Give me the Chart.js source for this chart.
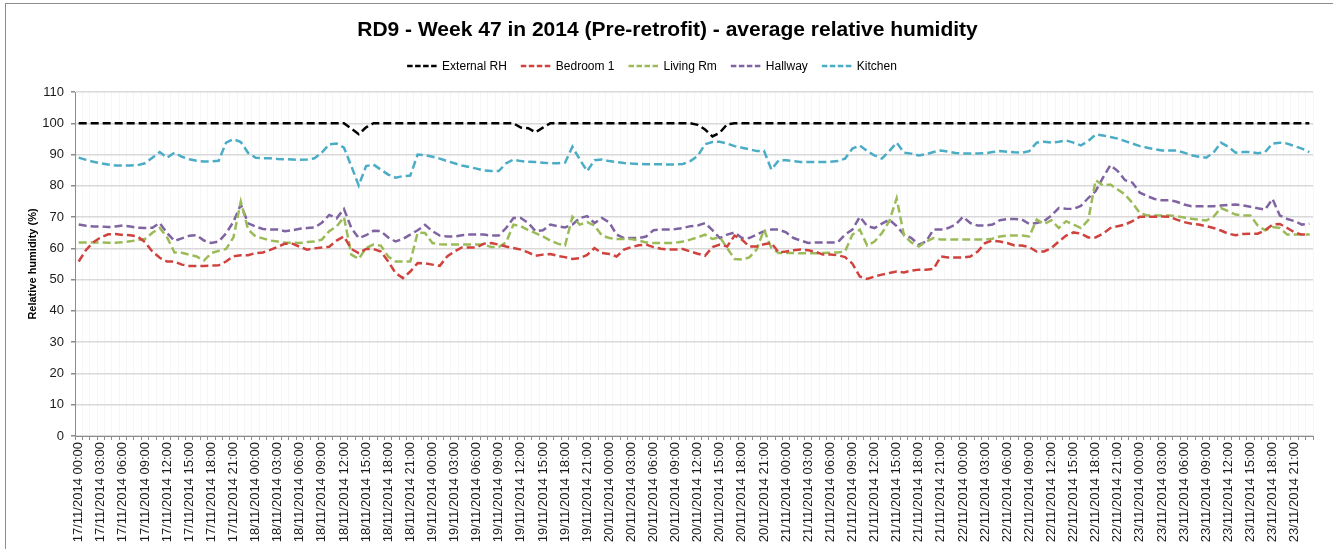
<!DOCTYPE html>
<html>
<head>
<meta charset="utf-8">
<script src="https://cdn.jsdelivr.net/npm/chart.js@4.4.0/dist/chart.umd.min.js"></script>
<style>
  html, body { margin: 0; padding: 0; background: #fff; overflow: hidden; }
  #wrap { position: relative; width: 1333px; height: 549px; overflow: hidden; }
  #frame { position: absolute; left: 5px; top: 3px; width: 1345px; height: 560px; border: 1.5px solid #8c8c8c; box-sizing: border-box; pointer-events: none; }
</style>
</head>
<body>
<div id="wrap">
  <canvas id="rhChart" width="1333" height="549"></canvas>
  <div id="frame"></div>
</div>
<script>
// Categories: hourly readings, 17/11/2014 00:00 to 23/11/2014 23:00
const days = ['17/11/2014', '18/11/2014', '19/11/2014', '20/11/2014', '21/11/2014', '22/11/2014', '23/11/2014'];
const hours = ['00:00','01:00','02:00','03:00','04:00','05:00','06:00','07:00','08:00','09:00','10:00','11:00',
               '12:00','13:00','14:00','15:00','16:00','17:00','18:00','19:00','20:00','21:00','22:00','23:00'];
const labels = [];
days.forEach(d => hours.forEach(h => labels.push(d + ' ' + h)));

// Y ticks
const yTicks = [0, 10, 20, 30, 40, 50, 60, 70, 80, 90, 100, 110];

// Series values (%), one row per day
const externalRH = [
  100,100,100,100,100,100,100,100,100,100,100,100,100,100,100,100,100,100,100,100,100,100,100,100,
  100,100,100,100,100,100,100,100,100,100,100,100,100,98.3,96.5,98.7,100,100,100,100,100,100,100,100,
  100,100,100,100,100,100,100,100,100,100,100,100,98.6,98.4,97.1,98.6,100,100,100,100,100,100,100,100,
  100,100,100,100,100,100,100,100,100,100,100,100,99.5,98,95.8,97,99.7,100,100,100,100,100,100,100,
  100,100,100,100,100,100,100,100,100,100,100,100,100,100,100,100,100,100,100,100,100,100,100,100,
  100,100,100,100,100,100,100,100,100,100,100,100,100,100,100,100,100,100,100,100,100,100,100,100,
  100,100,100,100,100,100,100,100,100,100,100,100,100,100,100,100,100,100,100,100,100,100,100,100
];
const bedroom1 = [
  55.8,59.5,62.0,63.5,64.5,64.6,64.3,64.2,63.8,62.0,59.0,57.0,55.8,55.8,54.8,54.4,54.4,54.4,54.5,54.6,55.8,57.5,57.8,57.8,
  58.5,58.7,59.5,60.5,61.5,61.5,60.5,59.6,60.0,60.3,60.5,62.5,63.8,59.8,58.5,59.8,59.8,59.0,55.8,52.1,50.5,52.6,55.3,55.2,
  54.8,54.4,57.4,59.0,60.3,60.3,60.3,61.5,61.7,61.2,60.6,60.1,59.6,58.7,57.6,58.0,58.2,57.6,57.2,56.6,56.9,57.9,60.1,58.5,
  58.2,57.4,59.6,60.4,61.0,61.2,60.4,59.9,59.6,59.6,59.8,59.0,58.3,57.6,60.4,61.2,60.6,64.1,62.8,60.6,60.6,61.3,61.7,58.7,
  59.0,59.4,59.6,59.4,58.9,58.0,58.0,57.8,57.2,55.1,51.0,50.2,51.0,51.6,52.1,52.6,52.3,52.9,53.2,53.2,53.4,57.4,57.1,57.1,
  57.1,57.4,59.0,61.7,62.5,62.2,61.7,60.9,60.9,60.4,59.0,59.0,60.1,62.2,64.1,65.1,64.7,63.5,63.5,64.7,66.5,67.1,67.6,68.7,
  70.1,70.1,70.1,70.2,70.1,69.2,68.4,67.9,67.6,67.1,66.5,65.7,64.7,64.2,64.6,64.7,64.7,65.8,67.6,67.8,66.5,65.1,64.4,64.4
];
const livingRm = [
  61.9,61.9,61.9,61.9,61.8,61.8,62.0,62.3,62.6,63.0,65.0,66.5,63.5,58.7,58.6,58.0,57.4,56.1,58.5,59.2,59.8,63.5,75.0,66.0,
  63.8,63.2,62.5,62.2,61.8,61.8,61.7,62.0,62.2,62.8,65.5,67.0,70.0,58.0,56.6,60.1,61.2,60.9,57.4,55.8,55.8,55.8,65.0,64.9,
  61.7,61.3,61.2,61.2,61.2,61.2,61.2,61.2,60.4,60.4,61.9,67.6,67.1,65.8,64.9,63.8,62.5,61.5,60.9,70.1,67.6,68.4,67.3,64.1,
  63.3,63.0,63.0,63.0,62.5,61.9,61.7,61.7,61.7,61.8,62.2,62.8,63.5,64.4,63.0,63.6,60.1,56.6,56.4,57.1,59.6,66.0,60.1,58.5,
  58.5,58.5,58.4,58.4,58.4,58.5,58.6,58.7,59.0,64.4,66.0,60.9,62.2,64.9,68.7,76.0,64.0,61.9,60.6,62.2,63.3,62.8,62.8,62.8,
  62.8,62.8,62.8,62.8,63.1,63.8,64.1,64.1,64.1,63.8,69.2,67.8,69.0,66.5,68.7,67.6,66.5,69.0,81.8,80.1,80.4,78.8,77.2,74.5,
  71.3,70.5,70.5,70.5,70.5,70.3,69.9,69.5,69.2,68.9,70.1,72.9,71.9,70.8,70.5,70.5,67.3,65.8,66.8,66.5,64.4,64.4,64.4,64.4
];
const hallway = [
  67.6,67.2,67.0,67.0,66.8,67.0,67.3,67.0,66.6,66.5,66.6,68.1,64.9,62.4,63.2,64.0,64.2,62.5,61.7,62.2,64.8,68.5,74.0,68.0,
  67.0,66.2,66.0,66.0,65.5,65.8,66.3,66.5,66.7,68.2,70.7,69.6,72.6,66.5,63.3,64.2,65.6,65.5,63.5,62.2,63.0,64.4,65.8,67.5,
  65.5,64.1,63.8,63.8,64.2,64.4,64.4,64.4,64.1,64.1,66.5,69.7,69.7,68.1,65.5,65.8,67.6,67.1,66.7,67.6,69.7,70.3,68.1,69.7,
  68.3,64.4,63.3,63.3,63.3,63.8,65.8,66.0,66.0,66.2,66.5,67.1,67.3,68.1,65.8,63.3,64.4,65.1,63.3,63.3,64.4,65.5,66.0,66.0,
  65.1,63.3,62.5,61.7,61.9,61.9,61.9,61.9,64.4,66.0,70.1,67.1,66.5,67.9,69.2,67.1,64.4,63.3,61.2,62.2,66.0,66.0,66.5,67.6,
  70.1,68.1,67.3,67.3,67.6,69.0,69.4,69.4,69.2,67.8,68.1,68.7,70.5,72.9,72.7,72.6,73.6,76.1,78.3,82.6,86.6,84.7,81.8,81.0,
  77.8,76.7,75.8,75.4,75.4,74.9,74.0,73.5,73.5,73.5,73.5,73.7,73.9,74.0,73.7,73.3,72.8,72.4,75.8,70.5,69.4,68.7,67.6,67.9
];
const kitchen = [
  89.0,88.3,87.7,87.2,86.8,86.5,86.5,86.5,86.6,87.2,89.0,90.8,89.0,90.6,89.3,88.5,88.0,87.8,87.8,88.0,93.8,94.9,94.0,90.5,
  89.0,88.8,88.8,88.6,88.5,88.4,88.3,88.4,88.8,90.6,93.3,93.5,92.2,86.3,80.1,86.3,86.8,85.2,83.6,82.6,83.1,83.3,90.0,89.8,
  89.3,88.7,87.9,87.2,86.5,86.0,85.5,84.9,84.7,84.7,87.2,88.4,87.9,87.7,87.6,87.4,87.2,87.2,87.4,92.5,88.4,84.7,88.2,88.4,
  87.9,87.6,87.3,87.1,87.0,86.9,86.9,86.9,86.8,86.8,87.0,87.9,89.5,93.3,94.0,94.1,93.5,92.7,92.2,91.7,91.1,91.2,85.2,88.2,
  88.2,87.9,87.6,87.6,87.6,87.6,87.7,87.9,88.7,91.9,92.9,91.1,89.7,88.7,91.1,93.8,90.6,90.3,89.7,90.1,90.8,91.3,90.9,90.5,
  90.3,90.3,90.3,90.4,90.8,91.1,90.9,90.7,90.6,91.1,93.8,94.1,93.8,94.1,94.5,93.8,92.9,94.3,96.4,96.1,95.6,95.1,94.3,93.5,
  92.7,92.2,91.7,91.3,91.3,91.3,90.6,89.8,89.3,89.0,90.6,93.8,92.5,90.6,90.8,90.8,90.4,90.8,93.5,93.8,93.5,92.7,91.9,90.8
];

const FONT = "'Liberation Sans', Arial, sans-serif";

function series(label, data, color) {
  return {
    label: label,
    data: data,
    borderColor: color,
    backgroundColor: color,
    borderWidth: 2.5,
    borderDash: [8, 4],
    pointRadius: 0,
    pointHoverRadius: 0,
    tension: 0,
    fill: false
  };
}

// Legend drawn with dashed samples (built-in legend draws them solid)
const dashedLegend = {
  id: 'dashedLegend',
  afterDraw(chart) {
    const c = chart.ctx;
    const sampleW = 30, gap = 5, spacing = 14, y = 66, centerX = 652;
    c.save();
    c.font = '12px ' + FONT;
    c.textBaseline = 'middle';
    c.textAlign = 'left';
    const items = chart.data.datasets.map(ds => ({ ds: ds, w: sampleW + gap + c.measureText(ds.label).width }));
    const total = items.reduce((s, it) => s + it.w, 0) + spacing * (items.length - 1);
    let x = centerX - total / 2;
    items.forEach(it => {
      c.strokeStyle = it.ds.borderColor;
      c.lineWidth = 2.5;
      c.setLineDash([5.5, 2.5]);
      c.beginPath();
      c.moveTo(x, y);
      c.lineTo(x + sampleW, y);
      c.stroke();
      c.setLineDash([]);
      c.fillStyle = '#000';
      c.fillText(it.ds.label, x + sampleW + gap, y + 0.5);
      x += it.w + spacing;
    });
    c.restore();
  }
};

const ctx = document.getElementById('rhChart').getContext('2d');
const rhChart = new Chart(ctx, {
  type: 'line',
  data: {
    labels: labels,
    datasets: [
      series('External RH', externalRH, '#000000'),
      series('Bedroom 1', bedroom1, '#d0423e'),
      series('Living Rm', livingRm, '#9bbb59'),
      series('Hallway', hallway, '#8064a2'),
      series('Kitchen', kitchen, '#4bacc6')
    ]
  },
  plugins: [dashedLegend],
  options: {
    responsive: false,
    animation: false,
    events: [],
    layout: { padding: { left: 22, right: 20, top: 0, bottom: 4 } },
    plugins: {
      title: {
        display: true,
        text: 'RD9 - Week 47 in 2014 (Pre-retrofit) - average relative humidity',
        color: '#000',
        font: { family: FONT, size: 21, weight: 'bold' },
        padding: { top: 18, bottom: 48.8 }
      },
      legend: { display: false },
      tooltip: { enabled: false }
    },
    scales: {
      x: {
        type: 'category',
        offset: true,
        grid: {
          offset: true,
          color: 'rgba(0,0,0,0.035)',
          tickColor: '#8c8c8c',
          tickLength: 4
        },
        border: { color: '#8c8c8c', width: 1 },
        ticks: {
          autoSkip: false,
          maxRotation: 90,
          minRotation: 90,
          padding: 2,
          color: '#1a1a1a',
          font: { family: FONT, size: 13 },
          callback: function (value, index) {
            return index % 3 === 0 ? labels[index] : '';
          }
        },
        afterFit: function (scale) { scale.height = 109; }
      },
      y: {
        min: 0,
        max: 110,
        afterBuildTicks: function (scale) {
          scale.ticks = yTicks.map(v => ({ value: v }));
        },
        grid: { color: '#d9d9d9', lineWidth: 1.5, tickLength: 4, tickColor: '#8c8c8c' },
        border: { color: '#8c8c8c', width: 1 },
        ticks: {
          padding: 7,
          color: '#1a1a1a',
          font: { family: FONT, size: 13 }
        },
        title: {
          display: true,
          text: 'Relative humidity (%)',
          color: '#000',
          font: { family: FONT, size: 11, weight: 'bold' },
          padding: { top: 4, bottom: 4 }
        },
        afterFit: function (scale) { scale.width = 53; }
      }
    }
  }
});
</script>
</body>
</html>
